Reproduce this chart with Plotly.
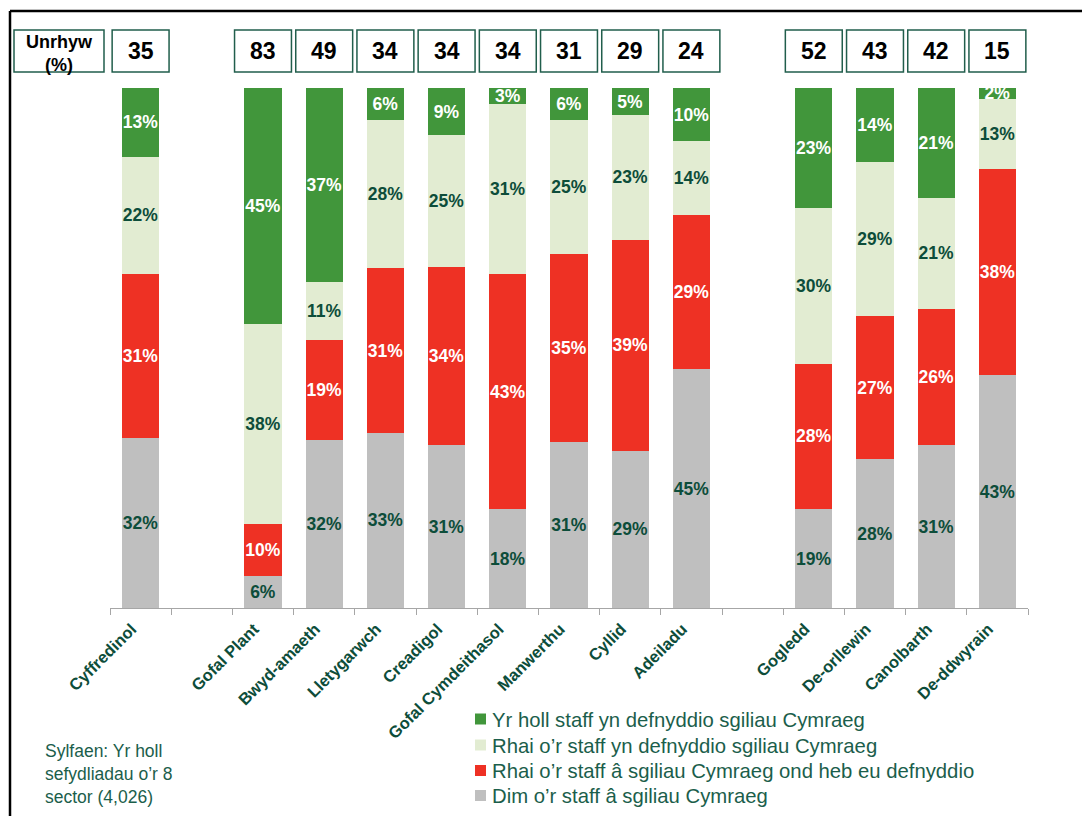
import plotly.graph_objects as go

# ---------------- data ----------------
categories = ["Cyffredinol", " ", "Gofal Plant", "Bwyd-amaeth", "Lletygarwch", "Creadigol",
              "Gofal Cymdeithasol", "Manwerthu", "Cyllid", "Adeiladu", "  ",
              "Gogledd", "De-orllewin", "Canolbarth", "De-ddwyrain"]
all_staff_use = [13, None, 45, 37, 6, 9, 3, 6, 5, 10, None, 23, 14, 21, 2]
some_staff_use = [22, None, 38, 11, 28, 25, 31, 25, 23, 14, None, 30, 29, 21, 13]
skills_not_used = [31, None, 10, 19, 31, 34, 43, 35, 39, 29, None, 28, 27, 26, 38]
no_skills = [32, None, 6, 32, 33, 31, 18, 31, 29, 45, None, 19, 28, 31, 43]
unrhyw = [35, None, 83, 49, 34, 34, 34, 31, 29, 24, None, 52, 43, 42, 15]

series_names = ["Dim o\u2019r staff \u00e2 sgiliau Cymraeg",
                "Rhai o\u2019r staff \u00e2 sgiliau Cymraeg ond heb eu defnyddio",
                "Rhai o\u2019r staff yn defnyddio sgiliau Cymraeg",
                "Yr holl staff yn defnyddio sgiliau Cymraeg"]
series_values = [no_skills, skills_not_used, some_staff_use, all_staff_use]
series_colors = ["#BFBFBF", "#EE3124", "#E2ECD2", "#41963B"]
label_colors = ["#0D4D3A", "#FFFFFF", "#0D4D3A", "#FFFFFF"]

source_text = "Sylfaen: Yr holl<br>sefydliadau o\u2019r 8<br>sector (4,026)"
unrhyw_title = "Unrhyw<br>(%)"

# ---------------- layout helpers ----------------
FIG_W, FIG_H = 1082, 816
L, R, T, B = 110, 1028, 88, 608
W, H = R - L, B - T


def px(x):
    return (x - L) / W


def py(y):
    return (B - y) / H


FONT = "Liberation Sans, Arial, sans-serif"
DARK = "#0D4D3A"
TEXT_GREEN = "#1B5E4B"

fig = go.Figure()
for name, vals, col, lcol in zip(series_names, series_values, series_colors, label_colors):
    fig.add_trace(go.Bar(
        name=name,
        x=categories,
        y=vals,
        marker=dict(color=col, line=dict(width=0)),
        width=0.61,
        text=[f"{v}%" if v is not None else "" for v in vals],
        textposition="inside",
        insidetextanchor="middle",
        textangle=0,
        constraintext="none",
        textfont=dict(family=FONT, size=17.5, color=lcol, weight="bold"),
        hoverinfo="skip",
        showlegend=False,
    ))

shapes = []
annotations = []
box_y0, box_y1 = py(72), py(30)
for i, (cat, v) in enumerate(zip(categories, unrhyw)):
    if v is None:
        continue
    shapes.append(dict(type="rect", xref="x", yref="paper",
                       x0=i - 0.465, x1=i + 0.465, y0=box_y0, y1=box_y1,
                       line=dict(color="#215E4C", width=1.5), fillcolor="white"))
    annotations.append(dict(x=cat, xref="x", y=py(51), yref="paper", text=str(v),
                            showarrow=False, xanchor="center", yanchor="middle",
                            font=dict(family=FONT, size=23, color="black", weight="bold")))

# "Unrhyw (%)" header box
shapes.append(dict(type="rect", xref="paper", yref="paper",
                   x0=px(14), x1=px(104), y0=box_y0, y1=box_y1,
                   line=dict(color="#215E4C", width=1.5), fillcolor="white"))
annotations.append(dict(x=px(59), xref="paper", y=py(53), yref="paper", text=unrhyw_title,
                        showarrow=False, xanchor="center", yanchor="middle",
                        font=dict(family=FONT, size=18, color="black", weight="bold")))

# frame lines (top and left)
shapes.append(dict(type="line", xref="paper", yref="paper",
                   x0=px(10), x1=px(1090), y0=py(11), y1=py(11),
                   line=dict(color="black", width=2.5)))
shapes.append(dict(type="line", xref="paper", yref="paper",
                   x0=px(10), x1=px(10), y0=py(11), y1=py(830),
                   line=dict(color="black", width=2.5)))

# source note
annotations.append(dict(x=px(43), xref="paper", y=py(739), yref="paper", text=source_text,
                        showarrow=False, xanchor="left", yanchor="top", align="left",
                        font=dict(family=FONT, size=17.5, color=TEXT_GREEN)))

# legend (top to bottom: reversed stacking order)
legend_rows = [719, 745, 770.5, 795.5]
for (name, col), yc in zip(list(zip(series_names, series_colors))[::-1], legend_rows):
    shapes.append(dict(type="rect", xref="paper", yref="paper",
                       x0=px(475), x1=px(486), y0=py(yc + 5.5), y1=py(yc - 5.5),
                       line=dict(width=0), fillcolor=col))
    annotations.append(dict(x=px(490), xref="paper", y=py(yc + 0.5), yref="paper", text=name,
                            showarrow=False, xanchor="left", yanchor="middle", align="left",
                            font=dict(family=FONT, size=20.3, color=TEXT_GREEN)))

fig.update_layout(
    width=FIG_W, height=FIG_H,
    margin=dict(l=L, r=FIG_W - R, t=T, b=FIG_H - B, autoexpand=False),
    barmode="stack", barnorm="percent",
    plot_bgcolor="white", paper_bgcolor="white",
    font=dict(family=FONT, color=DARK),
    showlegend=False,
    xaxis=dict(type="category", categoryorder="array", categoryarray=categories,
               range=[-0.5, len(categories) - 0.5],
               showline=True, linecolor="#A6A6A6", linewidth=1.2,
               ticks="outside", ticklen=6, tickcolor="#A6A6A6", tickwidth=1.2,
               tickson="boundaries", tickangle=-45, showgrid=False,
               ticklabelshift=-9, ticklabelstandoff=4,
               tickfont=dict(family=FONT, size=16.5, color=DARK, weight="bold")),
    yaxis=dict(range=[0, 100], visible=False, showgrid=False, zeroline=False),
    shapes=shapes,
    annotations=annotations,
)

fig.write_html("out.html", config={"displayModeBar": False},
               post_script="document.body.style.margin='0';document.body.style.padding='0';")
